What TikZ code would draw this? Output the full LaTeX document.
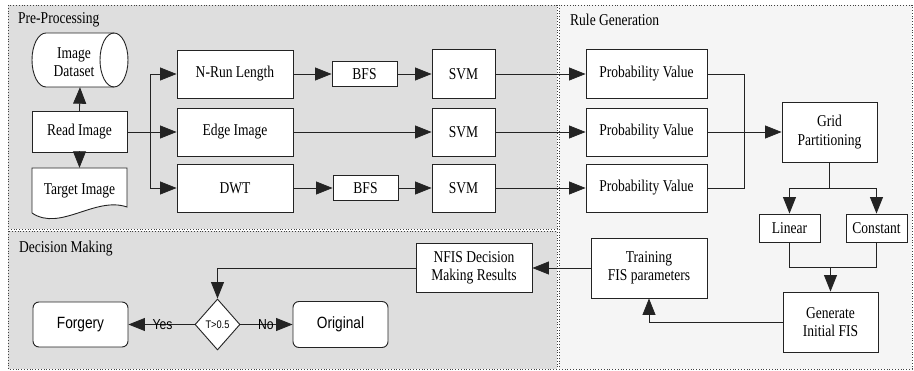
\documentclass[tikz,border=0pt]{standalone}
\usepackage{fontspec}
\setmainfont{Liberation Serif}[FakeStretch=0.82]
\newfontfamily\sansf{Liberation Sans}[FakeStretch=0.84]
\usetikzlibrary{arrows.meta,shapes.geometric}
\definecolor{panelgray}{RGB}{222,222,222}
\definecolor{panellight}{RGB}{245,245,245}
\definecolor{linec}{RGB}{35,35,35}
\begin{document}
\begin{tikzpicture}[x=1pt,y=-1pt,
 box/.style={draw=linec, line width=0.9pt, fill=white, inner sep=0pt, align=center, font=\fontsize{16.5}{18.5}\selectfont},
 arr/.style={-{Triangle[length=16.5pt,width=13pt]}, line width=0.8pt, draw=linec},
 ln/.style={line width=0.8pt, draw=linec},
 panel/.style={draw=black!75, dotted, line width=0.8pt},
 ttl/.style={anchor=west, inner sep=0pt, font=\fontsize{16.5}{18.5}\selectfont},
 rbox/.style={box, rounded corners=6pt, font=\sansf\fontsize{16.3}{18}\selectfont},
 lbl/.style={inner sep=0pt, font=\sansf\fontsize{14.5}{18}\selectfont}]
\useasboundingbox (0,0) rectangle (914,371);
% panels
\draw[panel, fill=panelgray] (8,5) rectangle (557,229);
\draw[panel, fill=panellight] (559,5) rectangle (912,369);
\draw[panel, fill=panelgray] (8,231) rectangle (557,369);
\node[ttl] (tpre) at (18,20) {Pre-Processing};
\node[ttl] (trule) at (570,20) {Rule Generation};
\node[ttl] (tdec) at (19,249) {Decision Making};
% image dataset cylinder
\draw[ln, fill=white, line width=0.9pt] (46,33) -- (114,33) arc[start angle=90, end angle=-90, x radius=14pt, y radius=27pt] -- (46,87) arc[start angle=270, end angle=90, x radius=14pt, y radius=27pt] -- cycle;
\draw[ln, line width=0.9pt] (114,33) arc[start angle=90, end angle=270, x radius=14pt, y radius=27pt];
\node[inner sep=0pt, minimum width=96pt, minimum height=54pt] (ds) at (80,60) {};
\node[align=center, inner sep=0pt, font=\fontsize{16.5}{18.5}\selectfont] (dstxt) at (74,62) {Image\\Dataset};
% target image document
\draw[ln, fill=white, line width=0.9pt] (32,213) -- (32,168) -- (127,168) -- (127,207) .. controls (95,196) and (60,232) .. (32,213);
\node[inner sep=0pt, minimum width=95pt, minimum height=46pt, font=\fontsize{16.5}{18.5}\selectfont] (tg) at (79.5,191) {Target Image};
% pre-processing nodes
\node[box, minimum width=95pt, minimum height=41pt] (read) at (79.5,132) {Read Image};
\node[box, minimum width=116pt, minimum height=48pt] (nrun) at (235,74) {N-Run Length};
\node[box, minimum width=116pt, minimum height=48pt] (edge) at (235,132) {Edge Image};
\node[box, minimum width=116pt, minimum height=48pt] (dwt) at (235,188) {DWT};
\node[box, minimum width=65pt, minimum height=25pt] (bfsa) at (364.5,74) {BFS};
\node[box, minimum width=65pt, minimum height=25pt] (bfsb) at (365.5,188) {BFS};
\node[box, minimum width=63pt, minimum height=49pt] (svma) at (463.5,74) {SVM};
\node[box, minimum width=63pt, minimum height=48pt] (svmb) at (463.5,132) {SVM};
\node[box, minimum width=63pt, minimum height=48pt] (svmc) at (463.5,188) {SVM};
% rule generation nodes
\node[box, minimum width=121pt, minimum height=49pt] (pa) at (646.5,74) {Probability Value};
\node[box, minimum width=121pt, minimum height=48pt] (pb) at (646.5,132) {Probability Value};
\node[box, minimum width=121pt, minimum height=48pt] (pc) at (646.5,188) {Probability Value};
\node[box, minimum width=95pt, minimum height=60pt] (grid) at (829.5,132) {Grid\\Partitioning};
\node[box, minimum width=61pt, minimum height=28pt] (lin) at (789.5,228) {Linear};
\node[box, minimum width=61pt, minimum height=28pt] (con) at (876.5,228) {Constant};
\node[box, minimum width=95pt, minimum height=60pt] (gen) at (830.5,322) {Generate\\Initial FIS};
\node[box, minimum width=116pt, minimum height=60pt] (train) at (649,268) {Training\\FIS parameters};
% decision making nodes
\node[box, minimum width=116pt, minimum height=49pt] (nfis) at (474,268) {NFIS Decision\\Making Results};
\node[draw=linec, line width=0.9pt, fill=white, diamond, minimum width=45pt, minimum height=51pt, inner sep=0pt, font=\sansf\fontsize{11}{12}\selectfont] (dia) at (217.5,324.5) {T>0.5};
\node[rbox, minimum width=95pt, minimum height=45pt] (forg) at (80.5,324.5) {Forgery};
\node[rbox, minimum width=95pt, minimum height=46pt] (orig) at (340.5,324.5) {Original};
% connectors pre-processing
\draw[arr] (read.north) -- (ds.south);
\draw[arr] (read.south) -- (tg.north);
\coordinate (br) at (150,132);
\draw[ln] (read.east) -- (br);
\draw[arr] (br) |- (nrun.west);
\draw[arr] (br) -- (edge.west);
\draw[arr] (br) |- (dwt.west);
\draw[arr] (nrun.east) -- (bfsa.west);
\draw[arr] (bfsa.east) -- (svma.west);
\draw[arr] (edge.east) -- (svmb.west);
\draw[arr] (dwt.east) -- (bfsb.west);
\draw[arr] (bfsb.east) -- (svmc.west);
\draw[arr] (svma.east) -- (pa.west);
\draw[arr] (svmb.east) -- (pb.west);
\draw[arr] (svmc.east) -- (pc.west);
% rule generation connectors
\coordinate (jx) at (744,132);
\draw[ln] (pa.east) -| (jx);
\draw[ln] (pc.east) -| (jx);
\draw[arr] (pb.east) -- (grid.west);
\coordinate (gsplit) at (829.5,188);
\draw[ln] (grid.south) -- (gsplit);
\draw[arr] (gsplit) -| (lin.north);
\draw[arr] (gsplit) -| (con.north);
\coordinate (gjoin) at (830.5,267);
\draw[ln] (lin.south) |- (gjoin);
\draw[ln] (con.south) |- (gjoin);
\draw[arr] (gjoin) -- (gen.north);
\draw[arr] (gen.west) -| (train.south);
\draw[arr] (train.west) -- (nfis.east);
% decision connectors
\draw[arr] (nfis.west) -| (dia.north);
\draw[arr] (dia.west) -- (forg.east) node[lbl, pos=0.485] (yes) {Yes};
\draw[arr] (dia.east) -- (orig.west) node[lbl, pos=0.49] (no) {No};
\end{tikzpicture}
\end{document}
